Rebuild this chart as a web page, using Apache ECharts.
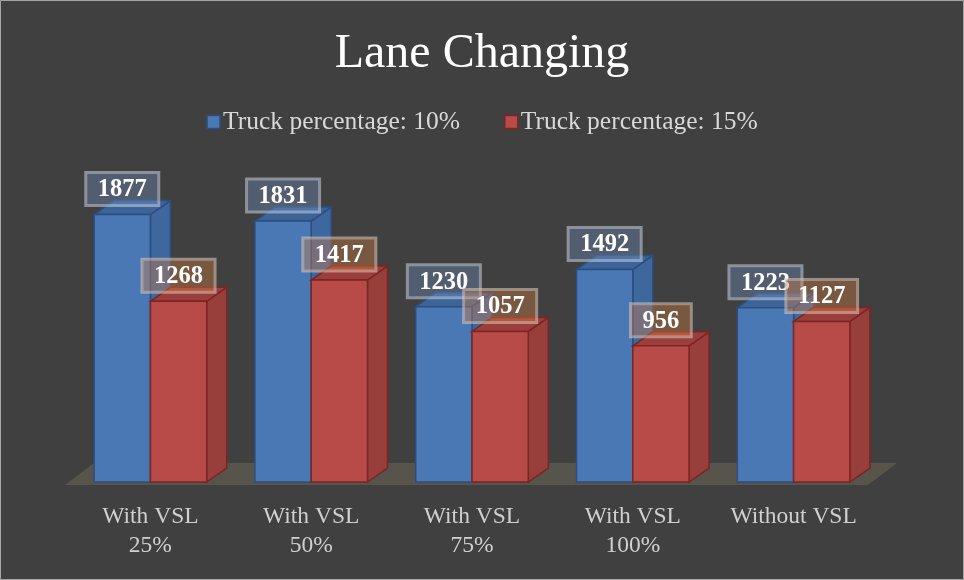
<!DOCTYPE html>
<html>
<head>
<meta charset="utf-8">
<script src="https://cdn.jsdelivr.net/npm/echarts@6/dist/echarts.min.js"></script>
<style>
  html, body { margin: 0; padding: 0; background: #404040; }
  #chart { width: 964px; height: 580px; }
</style>
</head>
<body>
<div id="chart"></div>
<script>
// 数据
var categories = ['With VSL\n25%', 'With VSL\n50%', 'With VSL\n75%', 'With VSL\n100%', 'Without VSL'];
var truck10 = [1877, 1831, 1230, 1492, 1223];
var truck15 = [1268, 1417, 1057, 956, 1127];
var seriesNames = ['Truck percentage: 10%', 'Truck percentage: 15%'];

var FONT = '"Liberation Serif", "DejaVu Serif", serif';
var DX = 20, DY = -14; // 3D 深度偏移

// 每个系列的颜色：正面、顶面、侧面、边线、标签底色
var palette = [
  { front: '#4a78b4', top: '#3d6499', side: '#3d679d', edge: '#2c4e7e', label: 'rgba(120,160,210,0.32)' },
  { front: '#b84b48', top: '#9c3f3c', side: '#983e3b', edge: '#7a2624', label: 'rgba(215,130,70,0.38)' }
];

function makeRender(si) {
  return function (params, api) {
    var c = palette[si];
    var idx = api.value(0), val = api.value(1);
    var base = api.coord([idx, 0]);
    var topPt = api.coord([idx, val]);
    var band = api.size([1, 0])[0];
    var w = band * 0.35;
    var x0 = si === 0 ? base[0] - w : base[0];
    var x1 = x0 + w;
    var yb = base[1], yt = topPt[1];
    return {
      type: 'group',
      children: [
        { type: 'polygon', shape: { points: [[x1, yt], [x1 + DX, yt + DY], [x1 + DX, yb + DY], [x1, yb]] },
          style: { fill: c.side, stroke: c.edge, lineWidth: 1.5 } },
        { type: 'polygon', shape: { points: [[x0, yt], [x0 + DX, yt + DY], [x1 + DX, yt + DY], [x1, yt]] },
          style: { fill: c.top, stroke: c.edge, lineWidth: 1.5 } },
        { type: 'rect', shape: { x: x0, y: yt, width: w, height: yb - yt },
          style: { fill: c.front, stroke: c.edge, lineWidth: 1.5 } },
        { type: 'text', z2: 100,
          style: {
            text: String(val), x: (x0 + x1) / 2, y: yt - 9,
            align: 'center', verticalAlign: 'bottom',
            fill: '#ffffff', font: 'bold 24.5px ' + FONT,
            backgroundColor: c.label, borderColor: 'rgba(210,210,210,0.55)', borderWidth: 1.5,
            padding: [5, 12, 3, 12]
          } }
      ]
    };
  };
}

function floorRender(params, api) {
  var cs = params.coordSys;
  var yf = cs.y + cs.height + 3;
  var xl = cs.x - 5, xr = cs.x + cs.width - 6;
  return {
    type: 'polygon', z2: -10,
    shape: { points: [[xl, yf], [xr, yf], [xr + 29, yf - 22], [xl + 29, yf - 22]] },
    style: { fill: '#57544b' }
  };
}

var chart = echarts.init(document.getElementById('chart'));
chart.setOption({
  backgroundColor: '#404040',
  animation: false,
  title: {
    text: 'Lane Changing', left: 'center', top: 25,
    textStyle: { color: '#ffffff', fontFamily: FONT, fontSize: 48, fontWeight: 'normal' }
  },
  legend: {
    top: 104, left: 'center', itemGap: 44, itemWidth: 13, itemHeight: 13, icon: 'rect',
    textStyle: { color: '#d9d9d9', fontFamily: FONT, fontSize: 25.5, padding: [0, 0, 0, -2] },
    data: [
      { name: seriesNames[0], itemStyle: { color: '#4a78b4', borderColor: '#2c4e7e', borderWidth: 1.5 } },
      { name: seriesNames[1], itemStyle: { color: '#b84b48', borderColor: '#7a2624', borderWidth: 1.5 } }
    ]
  },
  graphic: [{
    type: 'rect', silent: true, z: -1,
    shape: { x: 0.5, y: 0.5, width: 963, height: 579 },
    style: { fill: 'none', stroke: '#a6a6a6', lineWidth: 1 }
  }],
  grid: { left: 70, right: 90, top: 197, bottom: 98 },
  xAxis: {
    type: 'category', data: categories,
    axisLine: { show: false }, axisTick: { show: false },
    axisLabel: { interval: 0, hideOverlap: false, color: '#d0d0d0', fontFamily: FONT, fontSize: 23.5, lineHeight: 29, margin: 20 }
  },
  yAxis: { type: 'value', min: 0, max: 2000, show: false, splitLine: { show: false } },
  series: [
    { name: 'floor', type: 'custom', renderItem: floorRender, data: [[0, 0]], z: 1, silent: true },
    { name: seriesNames[0], type: 'custom', renderItem: makeRender(0), z: 2,
      itemStyle: { color: '#4a78b4' },
      data: truck10.map(function (v, i) { return [i, v]; }) },
    { name: seriesNames[1], type: 'custom', renderItem: makeRender(1), z: 2,
      itemStyle: { color: '#b84b48' },
      data: truck15.map(function (v, i) { return [i, v]; }) }
  ]
});
</script>
</body>
</html>
